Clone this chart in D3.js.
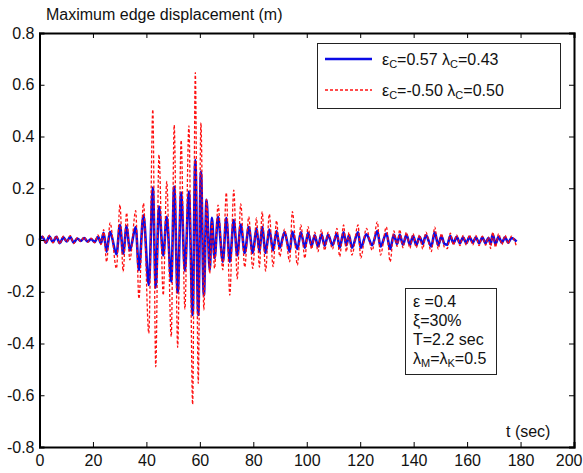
<!DOCTYPE html>
<html>
<head>
<meta charset="utf-8">
<script src="https://cdn.jsdelivr.net/npm/d3@7/dist/d3.min.js"></script>
<style>
  html, body { margin: 0; padding: 0; background: #fff; }
  svg { display: block; font-family: "Liberation Sans", Arial, sans-serif; }
</style>
</head>
<body>
<svg id="chart" width="583" height="473"></svg>
<script>
// ---- data (extrema of each response) ----
const tSec = [
  0, 1.1, 2.4, 3.7, 5.0, 6.3, 7.6, 8.9, 10.2, 11.5, 12.8, 14.1, 15.4, 16.7, 18.0, 19.3, 20.6, 21.9, 23.0, 24.0,
  25.1, 26.4, 28.8, 30.1, 31.3, 32.6, 33.8, 36.0, 37.2, 38.9, 40.9, 42.4, 43.5, 44.7, 46.3, 47.6, 49.3, 50.4,
  51.7, 53.0, 54.4, 55.9, 57.3, 58.3, 59.4, 60.4, 61.5, 62.5, 63.7, 64.5, 65.5, 66.8, 68.6, 69.9, 71.2, 72.7,
  74.0, 75.3, 76.8, 78.3, 79.8, 81.2, 82.3, 83.3, 84.6, 86.0, 87.4, 88.7, 89.9, 91.7, 93.6, 94.6, 96.5, 97.8,
  99.3, 100.5, 101.8, 103.0, 104.2, 105.5, 106.7, 108.0, 109.6, 111.3, 112.3, 113.8, 114.8, 115.8, 116.9, 119.2,
  120.2, 122.3, 124.5, 126.4, 127.6, 129.8, 131.2, 132.6, 133.8, 134.8, 136.0, 137.3, 138.6, 139.8, 141.0, 142.2,
  143.4, 144.6, 146.6, 147.9, 149.2, 150.4, 151.5, 152.6, 153.7, 154.9, 156.1, 157.3, 158.5, 159.7, 160.9, 162.1,
  163.3, 164.5, 165.7, 166.9, 168.0, 168.8, 169.6, 170.6, 171.8, 173.0, 174.2, 175.4, 176.6, 178.5
];
const blueDisp = [ // eps_c = 0.57, lambda_c = 0.43
  0, 0.012, -0.010, 0.014, -0.008, 0.012, -0.012, 0.010, -0.006, 0.012, -0.010, 0.006, -0.004, 0.008, -0.006, 0.004, -0.008, 0.012, -0.012, 0.028,
  -0.045, 0.032, -0.055, 0.058, -0.053, 0.053, -0.040, 0.050, -0.116, 0.095, -0.174, 0.203, -0.184, 0.129, -0.060, 0.090, -0.161, 0.206,
  -0.203, 0.183, -0.120, 0.187, -0.290, 0.309, -0.290, 0.265, -0.215, 0.155, -0.116, 0.086, -0.070, 0.090, -0.084, 0.085, -0.084, 0.077,
  -0.060, 0.060, -0.050, 0.050, -0.050, 0.045, -0.045, 0.050, -0.050, 0.040, -0.040, 0.035, -0.030, 0.030, -0.045, 0.032, -0.035, 0.030,
  -0.030, 0.028, -0.022, 0.018, -0.025, 0.022, -0.022, 0.020, -0.020, 0.025, -0.030, 0.030, -0.020, 0.018, -0.030, 0.030,
  -0.030, 0.022, -0.020, 0.035, -0.025, 0.025, -0.035, 0.020, -0.015, 0.020, -0.018, 0.020, -0.018, 0.015, -0.020, 0.012,
  -0.015, 0.018, -0.025, 0.030, -0.020, 0.015, -0.015, -0.018, 0.015, -0.012, 0.012, -0.012, 0.010, -0.012, 0.012, -0.010,
  0.010, -0.012, 0.010, -0.012, 0.008, -0.015, 0.022, -0.015, 0.012, -0.010, 0.010, -0.010, 0.008, -0.006
];
const redDisp = [ // eps_c = -0.50, lambda_c = 0.50
  0, 0.016, -0.013, 0.019, -0.011, 0.017, -0.016, 0.015, -0.008, 0.017, -0.014, 0.009, -0.006, 0.012, -0.009, 0.007, -0.011, 0.020, -0.018, 0.040,
  -0.084, 0.066, -0.110, 0.137, -0.122, 0.105, -0.077, 0.113, -0.227, 0.142, -0.361, 0.504, -0.490, 0.330, -0.213, 0.226, -0.374, 0.444,
  -0.415, 0.385, -0.267, 0.441, -0.635, 0.647, -0.554, 0.454, -0.270, 0.157, -0.129, 0.070, -0.110, 0.135, -0.115, 0.183, -0.213, 0.193,
  -0.150, 0.140, -0.105, 0.090, -0.110, 0.085, -0.105, 0.110, -0.120, 0.100, -0.103, 0.075, -0.064, 0.042, -0.084, 0.110, -0.097, 0.058,
  -0.070, 0.052, -0.035, 0.030, -0.045, 0.040, -0.040, 0.030, -0.035, 0.045, -0.064, 0.058, -0.045, 0.030, -0.058, 0.058,
  -0.070, 0.045, -0.040, 0.070, -0.058, 0.050, -0.084, 0.035, -0.025, 0.040, -0.030, 0.030, -0.032, 0.025, -0.030, 0.020,
  -0.035, 0.030, -0.045, 0.050, -0.035, 0.025, -0.028, -0.033, 0.026, -0.020, 0.020, -0.022, 0.018, -0.020, 0.020, -0.020,
  0.018, -0.022, 0.015, -0.020, 0.012, -0.033, 0.030, -0.028, 0.025, -0.018, 0.018, -0.015, 0.015, -0.026
];
const xTicks = [0, 20, 40, 60, 80, 100, 120, 140, 160, 180, 200];
const xTickLabels = ["0", "20", "40", "60", "80", "100", "120", "140", "160", "180", "200"];
const yTicks = [-0.8, -0.6, -0.4, -0.2, 0, 0.2, 0.4, 0.6, 0.8];
const yTickLabels = ["-0.8", "-0.6", "-0.4", "-0.2", "0", "0.2", "0.4", "0.6", "0.8"];

// ---- drawing ----
const svg = d3.select("#chart");
const L = 39.5, R = 574, T = 33, B = 447;
const x = d3.scaleLinear().domain([0, 200]).range([L, R]);
const y = d3.scaleLinear().domain([-0.8, 0.8]).range([B, T]);

const blueData = tSec.map((t, i) => [t, blueDisp[i]]);
const redData = tSec.map((t, i) => [t, redDisp[i]]);
const line = d3.line().x(d => x(d[0])).y(d => y(d[1])).curve(d3.curveMonotoneX);

svg.append("path").datum(blueData).attr("d", line)
  .attr("fill", "none").attr("stroke", "#0a0ae6").attr("stroke-width", 2.6)
  .attr("stroke-linejoin", "round");
svg.append("path").datum(redData).attr("d", line)
  .attr("fill", "none").attr("stroke", "#ff1010").attr("stroke-width", 1.3)
  .attr("stroke-dasharray", "3,2");

// axes (MATLAB style: inward ticks on all sides)
const fmtX = d => xTickLabels[xTicks.indexOf(d)];
const fmtY = d => yTickLabels[yTicks.indexOf(d)];
const gB = svg.append("g").attr("transform", `translate(0,${B})`)
  .call(d3.axisBottom(x).tickValues(xTicks).tickFormat(fmtX).tickSize(-5).tickPadding(8));
const gT = svg.append("g").attr("transform", `translate(0,${T})`)
  .call(d3.axisTop(x).tickValues(xTicks).tickFormat("").tickSize(-5));
const gL = svg.append("g").attr("transform", `translate(${L},0)`)
  .call(d3.axisLeft(y).tickValues(yTicks).tickFormat(fmtY).tickSize(-5).tickPadding(5));
const gR = svg.append("g").attr("transform", `translate(${R},0)`)
  .call(d3.axisRight(y).tickValues(yTicks).tickFormat("").tickSize(-5));
[gB, gT, gL, gR].forEach(g => {
  g.select(".domain").attr("stroke", "#000").attr("stroke-width", 2);
  g.selectAll(".tick line").attr("stroke", "#000").attr("stroke-width", 1);
  g.selectAll(".tick text").attr("fill", "#111").style("font-size", "16px")
    .style("font-family", '"Liberation Sans", Arial, sans-serif');
});
// keep the last x label inside the figure
gB.selectAll(".tick text").filter(d => d === 200).attr("text-anchor", "end").attr("x", 8);

// title and x label
svg.append("text").attr("x", 46).attr("y", 20).attr("font-size", 16).attr("fill", "#111")
  .text("Maximum edge displacement (m)");
svg.append("text").attr("x", 506).attr("y", 437).attr("font-size", 16).attr("fill", "#111")
  .text("t (sec)");

// legend
const leg = svg.append("g");
leg.append("rect").attr("x", 317.5).attr("y", 43.5).attr("width", 243).attr("height", 65)
  .attr("fill", "#fff").attr("stroke", "#222").attr("stroke-width", 1);
leg.append("line").attr("x1", 325).attr("x2", 372).attr("y1", 59).attr("y2", 59)
  .attr("stroke", "#0a0ae6").attr("stroke-width", 2.6);
leg.append("line").attr("x1", 325).attr("x2", 372).attr("y1", 90).attr("y2", 90)
  .attr("stroke", "#ff1010").attr("stroke-width", 1.3).attr("stroke-dasharray", "3,2");
function subText(g, xx, yy, parts) {
  const t = g.append("text").attr("x", xx).attr("y", yy).attr("font-size", 16).attr("fill", "#111");
  parts.forEach(p => {
    const s = t.append("tspan").text(p[0]);
    if (p[1]) s.attr("font-size", 11).attr("dy", 3);
    else s.attr("dy", p[2] || 0);
  });
  return t;
}
subText(leg, 382, 65, [["ε"], ["C", true], ["=0.57 λ", false, -3], ["C", true], ["=0.43", false, -3]]);
subText(leg, 382, 96, [["ε"], ["C", true], ["=-0.50 λ", false, -3], ["C", true], ["=0.50", false, -3]]);

// parameter box
const pb = svg.append("g");
pb.append("rect").attr("x", 405.5).attr("y", 288.5).attr("width", 91).attr("height", 86)
  .attr("fill", "#fff").attr("stroke", "#222").attr("stroke-width", 1);
pb.append("text").attr("x", 413).attr("y", 307).attr("font-size", 16).attr("fill", "#111").text("ε =0.4");
pb.append("text").attr("x", 413).attr("y", 326).attr("font-size", 16).attr("fill", "#111").text("ξ=30%");
pb.append("text").attr("x", 413).attr("y", 345).attr("font-size", 16).attr("fill", "#111").text("T=2.2 sec");
subText(pb, 413, 364, [["λ"], ["M", true], ["=λ", false, -3], ["K", true], ["=0.5", false, -3]]);
</script>
</body>
</html>
